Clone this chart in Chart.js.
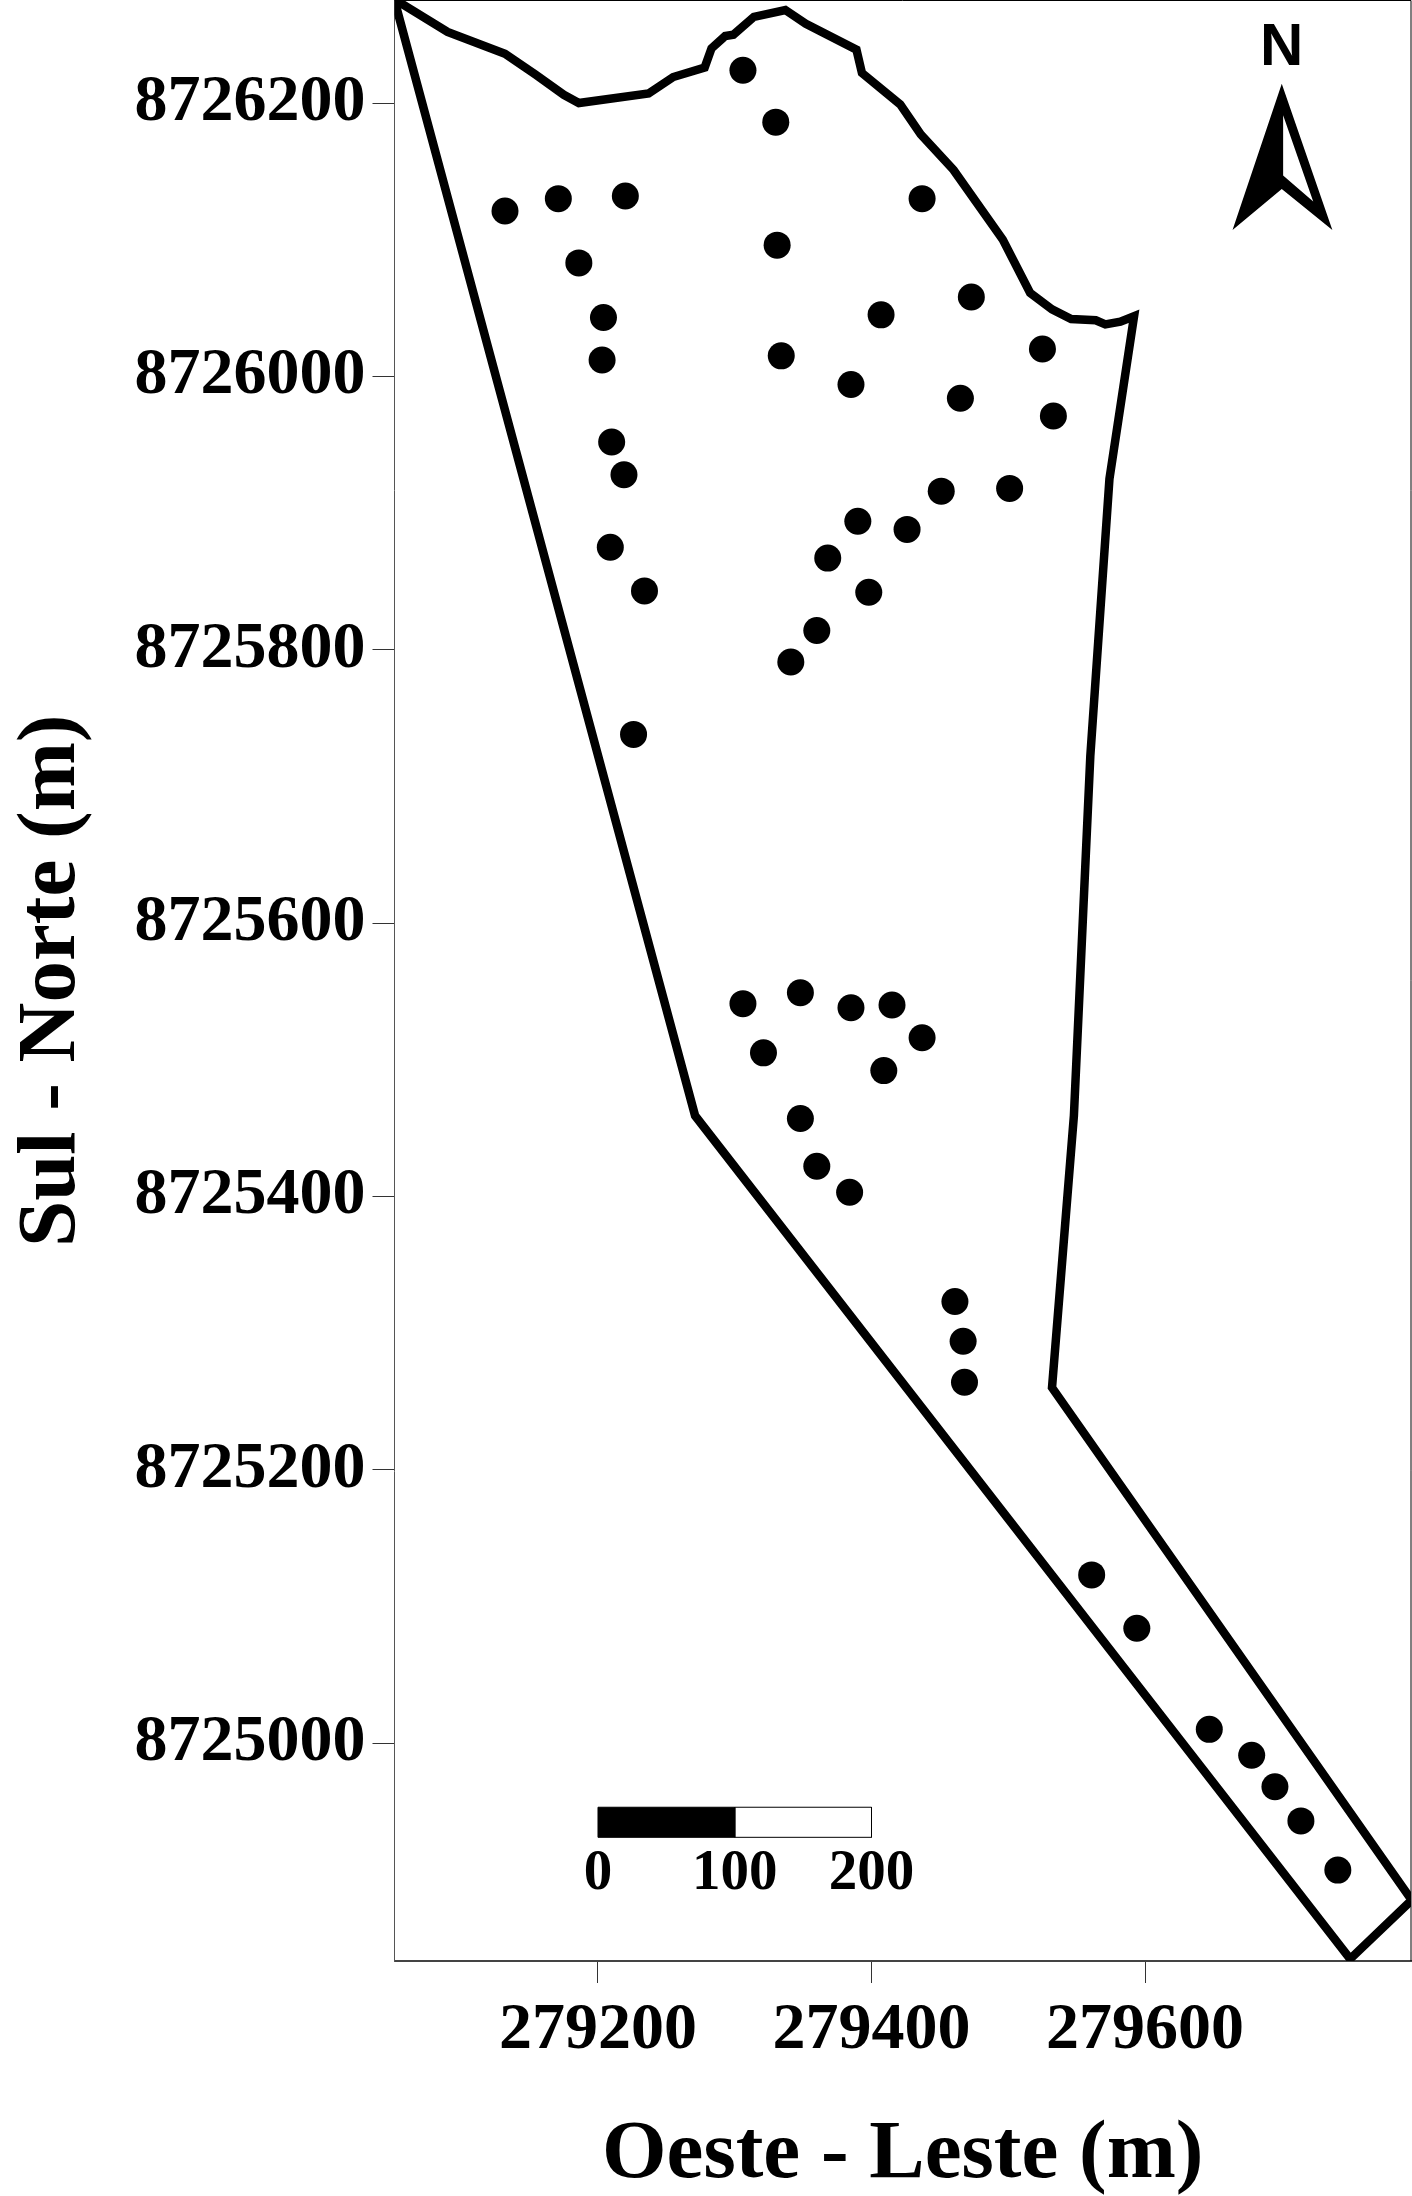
<!DOCTYPE html>
<html>
<head>
<meta charset="utf-8">
<title>Sul - Norte / Oeste - Leste</title>
<script src="https://cdn.jsdelivr.net/npm/chart.js@4/dist/chart.umd.min.js"></script>
<style>
	html, body { margin: 0; padding: 0; background: #fff; }
	canvas { display: block; }
</style>
</head>
<body>
<canvas id="mapa" width="1412" height="2196"></canvas>
<script>
const xTicks = [279200, 279400, 279600];
const yTicks = [8725000, 8725200, 8725400, 8725600, 8725800, 8726000, 8726200];

// pontos amostrais
const pontosX = [279306, 279330, 279132, 279171, 279220, 279437, 279331, 279186, 279204, 279203,
	279407, 279473, 279334, 279385, 279525, 279465, 279533, 279210, 279219, 279451,
	279501, 279390, 279426, 279209, 279368, 279234, 279398, 279360, 279341, 279226,
	279306, 279348, 279385, 279415, 279437, 279321, 279409, 279348, 279360, 279384,
	279461, 279467, 279468, 279561, 279594, 279647, 279678, 279695, 279714, 279741];
const pontosY = [8726224, 8726186, 8726121, 8726130, 8726132, 8726130, 8726096, 8726083, 8726043, 8726012,
	8726045, 8726058, 8726015, 8725994, 8726020, 8725984, 8725971, 8725952, 8725928, 8725916,
	8725918, 8725894, 8725888, 8725875, 8725867, 8725843, 8725842, 8725814, 8725791, 8725738,
	8725541, 8725549, 8725538, 8725540, 8725516, 8725505, 8725492, 8725457, 8725422, 8725403,
	8725323, 8725294, 8725264, 8725123, 8725084, 8725010, 8724991, 8724968, 8724943, 8724907];

// limite da area
const limiteX = [279051, 279090, 279132, 279154, 279175, 279186, 279237, 279255, 279278, 279283,
	279293, 279299, 279314, 279337, 279352, 279389, 279393, 279421, 279436, 279460,
	279496, 279516, 279532, 279546, 279564, 279571, 279582, 279592, 279574, 279560,
	279548, 279532, 279795, 279750, 279271, 279051];
const limiteY = [8726276, 8726252, 8726236, 8726221, 8726206, 8726200, 8726207, 8726219, 8726226, 8726240,
	8726249, 8726250, 8726263, 8726268, 8726258, 8726239, 8726222, 8726199, 8726177, 8726151,
	8726100, 8726061, 8726049, 8726042, 8726041, 8726038, 8726040, 8726044, 8725925, 8725722,
	8725459, 8725260, 8724885, 8724842, 8725459, 8726276];

// seta do norte
const setaX = [279700, 279664, 279700, 279737, 279700];
const setaY = [8726214, 8726107, 8726137, 8726107, 8726214];
const setaVazioX = [279701, 279701, 279723, 279701];
const setaVazioY = [8726191, 8726147, 8726128, 8726191];

// escala grafica
const barraPretaX = [279200, 279300, 279300, 279200, 279200];
const barraBrancaX = [279300, 279400, 279400, 279300, 279300];
const barraY = [8724953, 8724953, 8724931, 8724931, 8724953];
const barraLabels = ["0", "100", "200"];
const barraLabelsX = [279200, 279300, 279400];
const barraLabelY = 8724904;

const norteLabel = "N";
const norteX = 279700;
const norteY = 8726240;

const zip = (xs, ys) => xs.map((x, i) => ({x: x, y: ys[i]}));

const serif = '"Liberation Serif", "Times New Roman", serif';

const forma = (dados, cor, fundo, ordem, largura) => ({
	type: 'line',
	data: dados,
	borderColor: cor,
	borderWidth: largura,
	backgroundColor: fundo,
	fill: 'shape',
	pointRadius: 0,
	tension: 0,
	order: ordem
});

const textos = {
	id: 'textos',
	afterDatasetsDraw(chart) {
		const ctx = chart.ctx;
		const x = chart.scales.x;
		const y = chart.scales.y;
		ctx.save();
		ctx.fillStyle = '#000';
		ctx.textAlign = 'center';
		ctx.textBaseline = 'middle';
		ctx.font = 'bold 57px ' + serif;
		barraLabels.forEach((t, i) => {
			ctx.fillText(t, x.getPixelForValue(barraLabelsX[i]), y.getPixelForValue(barraLabelY));
		});
		ctx.font = 'bold 60px "Liberation Sans", Arial, sans-serif';
		ctx.fillText(norteLabel, x.getPixelForValue(norteX), y.getPixelForValue(norteY));
		// moldura superior e direita
		const a = chart.chartArea;
		ctx.strokeStyle = '#000';
		ctx.lineWidth = 1;
		ctx.beginPath();
		ctx.moveTo(a.left, a.top);
		ctx.lineTo(a.right, a.top);
		ctx.lineTo(a.right, a.bottom);
		ctx.stroke();
		ctx.restore();
	}
};

const semPadding = (scale) => {
	scale.paddingTop = 0;
	scale.paddingBottom = 0;
	scale.paddingLeft = 0;
	scale.paddingRight = 0;
};

const configMapa = {
	type: 'scatter',
	data: {
		datasets: [
			{
				label: 'Pontos',
				data: zip(pontosX, pontosY),
				backgroundColor: '#000',
				borderColor: '#000',
				pointRadius: 13.5,
				pointBorderWidth: 0,
				order: 1
			},
			Object.assign(forma(zip(limiteX, limiteY), '#000', 'rgba(0,0,0,0)', 2, 8.5), {fill: false, borderJoinStyle: 'miter'}),
			forma(zip(setaVazioX, setaVazioY), '#fff', '#fff', 3, 0),
			forma(zip(setaX, setaY), '#000', '#000', 4, 0),
			forma(zip(barraPretaX, barraY), '#000', '#000', 5, 1),
			forma(zip(barraBrancaX, barraY), '#000', '#fff', 6, 1)
		]
	},
	options: {
		responsive: false,
		animation: false,
		events: [],
		layout: {autoPadding: false, padding: {top: 0.5, right: 1, left: 0, bottom: 0}},
		plugins: {
			legend: {display: false},
			tooltip: {enabled: false}
		},
		scales: {
			x: {
				type: 'linear',
				min: 279051.2,
				max: 279794.5,
				afterFit(scale) { scale.height = 235; semPadding(scale); },
				afterBuildTicks(scale) { scale.ticks = xTicks.map(v => ({value: v})); },
				border: {color: '#444', width: 2},
				grid: {drawOnChartArea: false, tickLength: 22, tickWidth: 1, tickColor: '#333'},
				ticks: {
					color: '#000',
					padding: 8,
					maxRotation: 0,
					font: {family: serif, size: 66, weight: 'bold'},
					callback: v => String(v)
				},
				title: {
					display: true,
					text: 'Oeste - Leste (m)',
					color: '#000',
					padding: {top: 0, bottom: -9},
					font: {family: serif, size: 83, weight: 'bold'}
				}
			},
			y: {
				type: 'linear',
				min: 8724840.5,
				max: 8726275,
				afterFit(scale) { scale.width = 394.5; semPadding(scale); },
				afterBuildTicks(scale) { scale.ticks = yTicks.map(v => ({value: v})); },
				border: {color: '#555', width: 1},
				grid: {drawOnChartArea: false, tickLength: 22, tickWidth: 1, tickColor: '#333'},
				ticks: {
					color: '#000',
					padding: 7,
					font: {family: serif, size: 66, weight: 'bold'},
					callback: v => String(v)
				},
				title: {
					display: true,
					text: 'Sul - Norte (m)',
					color: '#000',
					padding: {top: 3, bottom: 0},
					font: {family: serif, size: 83, weight: 'bold'}
				}
			}
		}
	},
	plugins: [textos]
};

new Chart(document.getElementById('mapa'), configMapa);
</script>
</body>
</html>
